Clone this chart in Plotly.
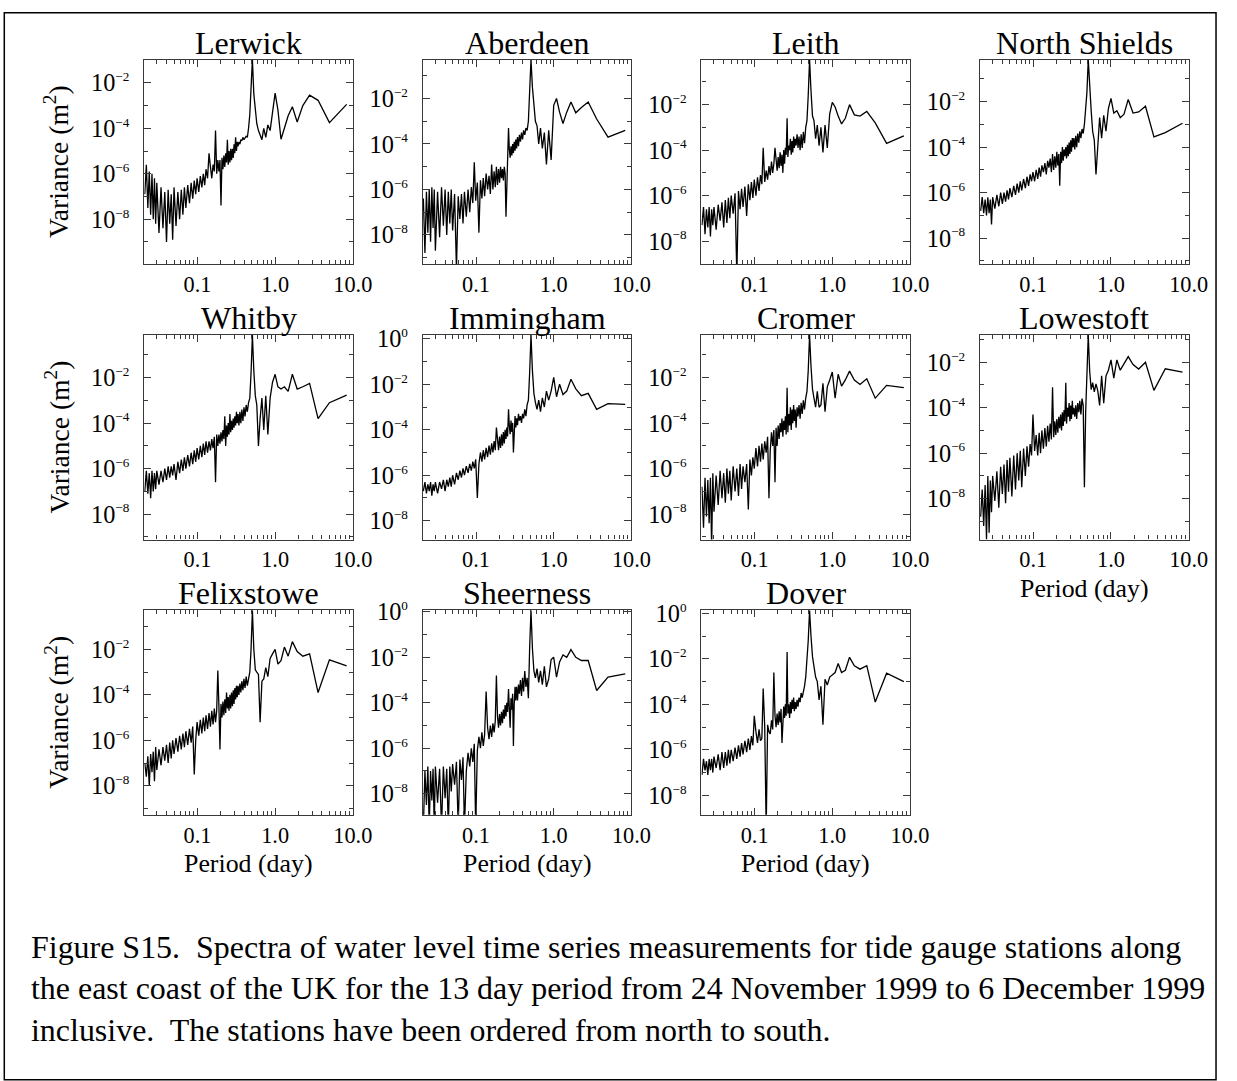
import math
import plotly.graph_objects as go

# ---------------- data ----------------
# spectral periods (day), longest to shortest
PERIOD_DAYS = [
    8.33, 5.0, 3.571, 2.778, 2.273, 1.923, 1.667, 1.471, 1.316, 1.190, 1.087, 1.0,
    0.926, 0.862, 0.806, 0.758, 0.714, 0.676, 0.641, 0.610, 0.581, 0.556, 0.532,
    0.510, 0.490, 0.472, 0.455, 0.439, 0.424, 0.410, 0.397, 0.385, 0.373, 0.362,
    0.352, 0.342, 0.333,
    0.325, 0.318, 0.310, 0.303, 0.296, 0.289, 0.282, 0.275, 0.268, 0.262, 0.255,
    0.249, 0.243, 0.237, 0.231, 0.225, 0.219, 0.213, 0.207, 0.201, 0.195, 0.189,
    0.183, 0.177, 0.171, 0.165, 0.159, 0.153, 0.147, 0.141, 0.135, 0.129, 0.124,
    0.119, 0.114, 0.109, 0.104, 0.099, 0.095, 0.091, 0.087, 0.083, 0.079, 0.075,
    0.071, 0.068, 0.065, 0.062, 0.059, 0.056, 0.053, 0.050, 0.048, 0.046, 0.044,
    0.042, 0.040, 0.038, 0.036, 0.034, 0.032, 0.030, 0.029, 0.028, 0.027, 0.026,
    0.025, 0.024, 0.023, 0.022, 0.021,
]

STATIONS = ["Lerwick", "Aberdeen", "Leith", "North Shields", "Whitby", "Immingham",
            "Cromer", "Lowestoft", "Felixstowe", "Sheerness", "Dover"]

# log10 of variance (m^2)
LOG_VAR_LERWICK = [
    -2.95, -3.75, -2.77, -2.54, -3.0, -3.72, -3.05, -3.45, -4.0, -4.48, -3.2, -2.45,
    -3.3, -4.1, -3.85, -4.4, -4.0, -4.5, -4.3, -4.1, -3.8, -3.2, -2.5, -0.98, -2.6,
    -3.4, -4.0, -4.4, -4.35, -4.45, -4.5, -4.4, -4.55, -4.5, -4.7, -4.6, -4.8,
    -4.6, -5.0, -4.4, -5.1, -4.7, -5.3, -4.9, -5.4, -4.9, -5.5, -5.0, -5.6, -4.5,
    -5.5, -5.1, -5.7, -5.2, -5.8, -5.3, -7.4, -5.4, -5.9, -5.4, -6.0, -4.1, -5.9,
    -5.6, -6.2, -5.7, -5.1, -6.2, -5.8, -6.5, -6.0, -6.6, -6.1, -6.8, -6.2, -6.9,
    -6.3, -7.1, -6.4, -7.3, -6.5, -7.5, -6.6, -7.8, -6.7, -8.0, -6.8, -8.3, -6.6,
    -8.9, -6.9, -8.2, -6.7, -9.0, -6.8, -8.4, -6.6, -8.6, -6.4, -8.2, -6.2, -8.0,
    -6.0, -7.8, -5.9, -7.5, -5.6, -6.9,
]
LOG_VAR_ABERDEEN = [
    -3.4, -3.7, -2.9, -2.15, -2.4, -2.63, -2.15, -2.6, -3.1, -2.6, -2.0, -2.3,
    -4.7, -3.4, -4.9, -3.5, -4.2, -3.3, -4.0, -3.2, -3.0, -2.4, -1.5, -0.29, -1.8,
    -3.0, -3.4, -3.3, -3.6, -3.4, -3.8, -3.5, -3.9, -3.6, -4.1, -3.7, -4.2,
    -3.8, -4.3, -3.9, -4.4, -4.0, -4.5, -4.1, -4.6, -4.2, -3.3, -4.8, -5.1, -7.2,
    -5.3, -5.0, -5.6, -5.1, -5.5, -5.0, -5.7, -5.1, -5.8, -5.0, -5.9, -5.2, -6.0,
    -4.9, -6.2, -5.4, -6.0, -5.3, -6.3, -5.5, -6.4, -5.6, -7.9, -5.7, -6.5, -4.8,
    -6.6, -5.9, -7.0, -6.0, -7.2, -6.1, -7.5, -6.2, -7.3, -6.3, -9.5, -6.2, -7.8,
    -6.0, -7.5, -6.1, -8.0, -6.0, -7.6, -5.9, -8.1, -6.1, -8.7, -6.0, -7.7, -5.9,
    -8.3, -6.0, -7.9, -6.1, -8.8, -6.4,
]
LOG_VAR_LEITH = [
    -3.37, -3.7, -2.8, -2.3, -2.5, -2.45, -2.0, -2.6, -2.85, -2.5, -2.1, -1.9,
    -2.4, -3.9, -2.9, -4.1, -3.0, -3.8, -2.9, -3.5, -2.7, -2.5, -1.4, -0.02, -1.6,
    -2.7, -3.0, -3.7, -3.2, -3.9, -3.3, -4.0, -3.4, -3.9, -3.3, -3.8, -3.5,
    -3.9, -3.4, -4.1, -3.6, -4.2, -3.5, -4.0, -3.8, -4.3, -2.6, -4.2, -3.9, -4.6,
    -4.0, -5.0, -4.2, -4.7, -4.1, -4.8, -4.3, -4.9, -4.4, -3.9, -4.6, -5.0, -4.5,
    -5.1, -4.7, -5.3, -4.9, -5.4, -3.9, -5.5, -5.1, -5.8, -5.2, -6.0, -5.3, -6.1,
    -5.4, -6.2, -5.5, -6.9, -5.6, -6.5, -5.7, -6.6, -5.8, -9.5, -5.9, -6.8, -6.0,
    -7.0, -6.1, -7.2, -6.2, -7.4, -6.3, -7.1, -6.4, -7.5, -6.5, -7.3, -6.6, -7.8,
    -6.5, -7.4, -6.6, -7.7, -6.5, -7.3,
]
LOG_VAR_NORTH_SHIELDS = [
    -2.95, -3.36, -3.55, -2.2, -2.45, -2.5, -1.9, -2.55, -2.7, -2.4, -2.5, -1.85,
    -2.3, -3.3, -2.6, -3.6, -2.7, -3.9, -5.2, -3.7, -3.3, -2.4, -1.4, -0.15, -1.6,
    -2.6, -3.0, -3.4, -3.2, -3.6, -3.3, -3.8, -3.4, -4.0, -3.5, -4.1, -3.6,
    -4.0, -3.6, -4.2, -3.7, -4.3, -3.8, -4.4, -3.9, -4.5, -4.0, -4.4, -4.1, -4.6,
    -4.0, -4.7, -4.2, -5.7, -4.3, -4.8, -4.2, -4.9, -4.4, -5.0, -4.3, -5.1, -4.5,
    -4.9, -4.6, -5.2, -4.7, -5.1, -4.8, -5.3, -4.9, -5.4, -5.0, -5.5, -5.1, -5.5,
    -5.2, -5.7, -5.3, -5.8, -5.4, -5.9, -5.5, -6.0, -5.6, -6.1, -5.7, -6.2, -5.8,
    -6.3, -5.9, -6.4, -6.0, -6.5, -6.0, -6.6, -6.1, -6.7, -6.2, -7.4, -6.3, -6.9,
    -6.2, -7.0, -6.3, -6.9, -6.2, -6.8,
]
LOG_VAR_WHITBY = [
    -2.77, -3.1, -3.8, -2.25, -2.4, -2.5, -1.85, -2.6, -2.4, -2.5, -2.4, -1.85,
    -2.2, -2.9, -4.5, -2.8, -4.3, -2.9, -3.8, -5.0, -3.2, -2.8, -1.7, -0.12, -1.8,
    -2.9, -3.1, -3.5, -3.2, -3.7, -3.3, -3.9, -3.4, -4.0, -3.5, -4.1, -3.6,
    -4.0, -3.5, -4.1, -3.7, -4.2, -3.8, -4.3, -3.9, -4.4, -3.6, -4.5, -4.0, -4.6,
    -4.1, -5.0, -3.7, -4.7, -4.3, -4.8, -4.4, -4.9, -4.5, -5.0, -4.5, -6.6, -4.6,
    -5.1, -4.7, -5.2, -4.8, -5.3, -4.8, -5.4, -4.9, -5.5, -5.0, -5.6, -5.1, -5.7,
    -5.2, -5.8, -5.3, -5.9, -5.4, -6.0, -5.5, -6.1, -5.6, -6.2, -5.7, -6.5, -5.8,
    -6.3, -5.9, -6.4, -5.9, -6.5, -6.0, -6.6, -6.1, -6.7, -6.1, -6.9, -6.2, -7.0,
    -6.1, -7.3, -6.2, -7.1, -6.1, -7.0,
]
LOG_VAR_IMMINGHAM = [
    -2.88, -2.85, -3.1, -2.4, -2.5, -2.2, -1.78, -2.3, -2.45, -2.0, -2.55, -1.7,
    -2.3, -2.7, -2.3, -3.0, -2.6, -3.2, -2.7, -3.1, -2.8, -2.4, -1.4, 0.17, -1.5,
    -2.7, -2.9, -3.4, -3.1, -3.5, -3.3, -3.7, -3.4, -3.6, -3.3, -3.8, -3.5,
    -3.9, -3.4, -4.0, -5.0, -3.7, -4.1, -3.6, -4.2, -3.8, -3.1, -4.3, -3.9, -4.4,
    -4.0, -4.6, -4.1, -4.7, -4.2, -4.8, -4.3, -4.9, -4.4, -3.9, -4.9, -4.5, -5.0,
    -4.6, -5.1, -4.7, -5.2, -4.8, -5.3, -4.9, -5.4, -5.0, -5.5, -7.0, -5.3, -5.7,
    -5.4, -5.8, -5.5, -5.9, -5.6, -6.0, -5.7, -6.1, -5.8, -6.2, -5.9, -6.4, -6.0,
    -6.5, -6.1, -6.5, -6.2, -6.7, -6.2, -6.6, -6.3, -6.8, -6.3, -6.7, -6.4, -6.9,
    -6.3, -6.7, -6.4, -6.8, -6.3, -6.7,
]
LOG_VAR_CROMER = [
    -2.44, -2.34, -2.9, -2.05, -2.3, -2.1, -1.71, -2.1, -2.37, -1.85, -2.9, -1.75,
    -2.1, -2.4, -3.5, -2.25, -3.2, -3.3, -2.6, -3.3, -2.9, -2.5, -1.5, -0.12, -1.7,
    -2.6, -2.9, -3.4, -3.0, -3.6, -3.1, -3.8, -3.2, -3.7, -3.3, -4.2, -3.4,
    -3.9, -3.2, -4.0, -3.4, -4.3, -3.3, -4.1, -3.6, -4.4, -2.44, -4.5, -3.7, -4.3,
    -3.9, -4.6, -3.8, -4.4, -4.0, -4.7, -4.1, -5.0, -4.2, -6.6, -4.3, -5.0, -4.4,
    -5.2, -7.3, -4.6, -5.3, -4.8, -5.6, -4.9, -5.7, -5.0, -5.9, -5.1, -6.0, -5.5,
    -6.3, -5.6, -7.8, -5.8, -6.6, -5.9, -6.9, -5.8, -7.2, -6.0, -7.0, -5.9, -7.4,
    -6.1, -7.1, -6.0, -7.5, -6.2, -7.3, -6.1, -7.6, -6.3, -7.9, -6.2, -9.5, -6.4,
    -8.4, -6.5, -8.1, -6.4, -8.6, -6.8,
]
LOG_VAR_LOWESTOFT = [
    -2.44, -2.29, -3.24, -2.0, -2.3, -2.1, -1.75, -2.1, -2.35, -1.9, -2.7, -1.9,
    -2.35, -2.6, -3.8, -2.6, -3.9, -3.25, -2.95, -3.3, -2.9, -3.2, -2.4, -0.8, -2.6,
    -4.2, -7.5, -3.9, -3.6, -4.3, -3.7, -4.2, -3.8, -4.5, -3.9, -4.4, -4.0,
    -4.3, -3.7, -4.5, -3.9, -4.6, -3.8, -4.4, -4.0, -4.7, -2.9, -4.6, -4.1, -4.8,
    -4.2, -5.0, -4.3, -4.9, -4.4, -5.1, -4.5, -5.2, -4.6, -5.3, -3.1, -5.4, -4.7,
    -5.5, -4.8, -5.7, -4.9, -5.8, -5.0, -6.0, -5.1, -6.1, -5.2, -5.9, -4.3, -6.1,
    -5.6, -6.6, -5.7, -7.0, -5.8, -7.5, -5.9, -7.2, -6.0, -7.6, -6.1, -7.9, -6.2,
    -7.7, -6.3, -8.2, -6.5, -7.8, -6.6, -8.4, -6.8, -8.1, -7.0, -8.6, -7.2, -9.5,
    -7.0, -9.8, -7.4, -9.2, -7.6, -8.8,
]
LOG_VAR_FELIXSTOWE = [
    -2.73, -2.46, -3.9, -2.2, -2.3, -2.1, -1.66, -2.3, -1.9, -2.5, -2.65, -2.0,
    -2.2, -2.4, -3.2, -2.8, -3.3, -3.4, -5.2, -3.1, -3.0, -2.9, -2.0, -0.28, -2.0,
    -3.0, -3.3, -3.6, -3.2, -3.7, -3.3, -3.8, -3.4, -3.9, -3.5, -4.0, -3.6,
    -4.1, -3.6, -4.2, -3.7, -4.4, -3.8, -4.5, -3.9, -4.6, -4.0, -4.7, -4.1, -4.6,
    -3.9, -4.8, -4.2, -4.9, -4.3, -5.0, -4.4, -6.4, -4.5, -2.93, -4.7, -5.2, -4.6,
    -5.3, -4.7, -5.4, -4.8, -5.5, -4.9, -5.6, -5.0, -5.7, -5.1, -5.8, -5.2, -6.0,
    -7.5, -5.4, -6.1, -5.5, -6.2, -5.6, -6.3, -5.7, -6.4, -5.8, -6.5, -5.9, -6.6,
    -6.0, -6.8, -6.1, -7.0, -6.2, -6.9, -6.3, -7.1, -6.4, -7.3, -6.3, -7.8, -6.5,
    -7.4, -6.6, -8.0, -6.7, -7.6, -7.0,
]
LOG_VAR_SHEERNESS = [
    -2.73, -2.87, -3.46, -2.14, -2.14, -2.0, -1.66, -2.0, -1.9, -2.2, -2.87, -2.0,
    -2.1, -2.95, -3.3, -2.4, -3.2, -2.6, -3.1, -2.5, -2.9, -2.6, -1.6, 0.07, -1.6,
    -3.8, -2.9, -3.3, -2.6, -3.5, -2.9, -3.7, -3.0, -3.6, -3.2, -3.9, -3.3,
    -3.9, -3.3, -4.1, -5.9, -3.6, -4.3, -3.8, -5.1, -3.9, -3.4, -4.4, -4.0, -4.6,
    -4.1, -4.7, -4.3, -4.9, -4.4, -5.0, -4.5, -5.1, -4.6, -2.8, -4.8, -5.3, -4.9,
    -5.5, -5.0, -5.6, -5.1, -3.5, -5.4, -5.9, -5.3, -6.0, -5.5, -6.1, -9.5, -5.8,
    -6.6, -6.0, -6.8, -6.2, -7.0, -9.5, -6.4, -7.4, -6.5, -9.5, -6.6, -7.6, -6.7,
    -7.9, -6.8, -9.5, -6.9, -8.2, -6.8, -9.5, -6.9, -8.4, -6.8, -9.5, -6.9, -8.3,
    -7.0, -9.5, -6.8, -8.5, -7.0, -9.5,
]
LOG_VAR_DOVER = [
    -3.0, -2.63, -3.9, -2.3, -2.45, -2.3, -1.93, -2.5, -2.6, -2.2, -2.6, -2.7,
    -2.8, -3.15, -2.9, -4.9, -3.2, -3.8, -3.0, -2.8, -2.4, -1.9, -1.0, 0.14, -1.2,
    -2.2, -2.8, -3.2, -3.5, -3.7, -3.5, -3.9, -3.7, -4.1, -3.8, -4.2, -3.9,
    -4.3, -3.7, -4.2, -3.8, -4.4, -3.9, -4.6, -4.0, -4.4, -1.7, -4.5, -4.0, -4.6,
    -4.1, -4.7, -5.7, -4.2, -4.8, -4.3, -4.9, -4.4, -5.0, -4.5, -2.6, -5.1, -4.7,
    -5.3, -5.2, -4.9, -9.5, -5.0, -3.3, -5.5, -5.6, -5.1, -5.7, -5.2, -4.5, -5.8,
    -5.4, -6.0, -5.5, -6.1, -5.6, -6.2, -5.7, -6.3, -5.8, -6.4, -5.9, -6.5, -6.0,
    -6.6, -6.0, -6.7, -6.1, -6.8, -6.1, -6.9, -6.2, -6.8, -6.3, -7.0, -6.4, -6.9,
    -6.4, -7.1, -6.5, -6.9, -6.4, -7.1,
]

SERIES = [LOG_VAR_LERWICK, LOG_VAR_ABERDEEN, LOG_VAR_LEITH, LOG_VAR_NORTH_SHIELDS,
          LOG_VAR_WHITBY, LOG_VAR_IMMINGHAM, LOG_VAR_CROMER, LOG_VAR_LOWESTOFT,
          LOG_VAR_FELIXSTOWE, LOG_VAR_SHEERNESS, LOG_VAR_DOVER]

# upper limit of each panel's y axis (log10); each axis spans nine decades
Y_TOP_LOG = [-0.98, -0.29, -0.02, -0.15, -0.12, 0.17, -0.12, -0.8, -0.28, 0.07, 0.14]

X_TICKS = [0.1, 1.0, 10.0]
X_TICK_TEXT = ["0.1", "1.0", "10.0"]
X_MINOR = [0.03, 0.04, 0.05, 0.06, 0.07, 0.08, 0.09,
           0.2, 0.3, 0.4, 0.5, 0.6, 0.7, 0.8, 0.9,
           2, 3, 4, 5, 6, 7, 8, 9]
X_MIN_PERIOD = 0.0207

CAPTION = [
    "Figure S15.\u00a0 Spectra of water level time series measurements for tide gauge stations along",
    "the east coast of the UK for the 13 day period from 24 November 1999 to 6 December 1999",
    "inclusive.\u00a0 The stations have been ordered from north to south.",
]

# ---------------- layout ----------------
W, H = 1237, 1081
# the captured page comes out slightly reduced and shifted; these undo that
S, OX, OY = 0.986, -1.3, 12.5
COL_LEFT = [143.3, 422.5, 701.7, 981.0]   # target pixel positions
ROW_TOP = [60.0, 334.5, 609.0]
BOX_W, BOX_H = 209.0, 204.0
GRID_POS = [(0, 0), (0, 1), (0, 2), (0, 3), (1, 0), (1, 1), (1, 2), (1, 3),
            (2, 0), (2, 1), (2, 2)]
SERIF = "Liberation Serif, Times New Roman, serif"
FRAME = "#3a3a3a"


def px_x(x):
    return min(max(((x - OX) / S) / W, 0.0), 1.0)


def px_y(y):
    return min(max(1 - ((y - OY) / S) / H, 0.0), 1.0)


def fs(size):
    return round(size / S, 2)


def exp_label(e):
    s = str(e).replace("-", "\u2212")
    return "10<sup><span style='font-size:%spx'>%s</span></sup>" % (fs(13), s)


fig = go.Figure()
layout = dict(
    width=W, height=H, margin=dict(l=0, r=0, t=0, b=0, pad=0), autosize=False,
    paper_bgcolor="white", plot_bgcolor="white", showlegend=False,
    font=dict(family=SERIF, color="black"),
)
annotations = []

for i, (name, vals) in enumerate(zip(STATIONS, SERIES)):
    r, c = GRID_POS[i]
    left, top = COL_LEFT[c], ROW_TOP[r]
    sfx = "" if i == 0 else str(i + 1)
    xs = [p for p, _ in zip(PERIOD_DAYS, vals)]
    ys = [10 ** v for _, v in zip(PERIOD_DAYS, vals)]
    fig.add_trace(go.Scatter(
        x=xs, y=ys, mode="lines",
        line=dict(color="black", width=1.3),
        xaxis="x" + sfx, yaxis="y" + sfx, hoverinfo="skip",
    ))
    ytop = Y_TOP_LOG[i]
    ybot = ytop - 9
    major = [e for e in range(0, -12, -2) if ybot <= e <= ytop]
    minor = [e for e in range(-1, -12, -2) if ybot <= e <= ytop]
    layout["xaxis" + sfx] = dict(
        type="log", domain=[px_x(left), px_x(left + BOX_W)],
        range=[math.log10(X_MIN_PERIOD), 1.0], anchor="y" + sfx,
        tickmode="array", tickvals=X_TICKS, ticktext=X_TICK_TEXT,
        ticks="inside", ticklen=7, tickwidth=1, tickcolor=FRAME,
        showline=True, linecolor=FRAME, linewidth=1.2, mirror="ticks",
        showgrid=False, zeroline=False,
        tickfont=dict(family=SERIF, size=fs(22), color="black"),
        ticklabelstandoff=0,
        minor=dict(tickmode="array", tickvals=X_MINOR, ticks="inside",
                   ticklen=4, tickwidth=1, tickcolor=FRAME, showgrid=False),
    )
    layout["yaxis" + sfx] = dict(
        type="log", domain=[px_y(top + BOX_H), px_y(top)],
        range=[ybot, ytop], anchor="x" + sfx,
        tickmode="array", tickvals=[10.0 ** e for e in major],
        ticktext=[exp_label(e) for e in major],
        ticks="inside", ticklen=7, tickwidth=1, tickcolor=FRAME,
        showline=True, linecolor=FRAME, linewidth=1.2, mirror="ticks",
        showgrid=False, zeroline=False,
        tickfont=dict(family=SERIF, size=fs(24), color="black"),
        ticklabelstandoff=9,
        minor=dict(tickmode="array", tickvals=[10.0 ** e for e in minor],
                   ticks="inside", ticklen=4, tickwidth=1, tickcolor=FRAME,
                   showgrid=False),
    )
    # panel title
    annotations.append(dict(
        text=name, xref="paper", yref="paper",
        x=px_x(left + BOX_W / 2), y=px_y(top - 17),
        xanchor="center", yanchor="middle", showarrow=False,
        font=dict(family=SERIF, size=fs(31.6), color="black"),
    ))
    if c == 0:
        annotations.append(dict(
            text="Variance (m<sup>2</sup>)", xref="paper", yref="paper",
            x=px_x(56), y=px_y(top + BOX_H / 2), textangle=-90,
            xanchor="center", yanchor="middle", showarrow=False,
            font=dict(family=SERIF, size=fs(27.2), color="black"),
        ))
    if r == 2 or (r == 1 and c == 3):
        annotations.append(dict(
            text="Period (day)", xref="paper", yref="paper",
            x=px_x(left + BOX_W / 2), y=px_y(top + BOX_H + 49),
            xanchor="center", yanchor="middle", showarrow=False,
            font=dict(family=SERIF, size=fs(25.5), color="black"),
        ))

CAPTION_Y = [945, 986, 1028]
for line, yy in zip(CAPTION, CAPTION_Y):
    annotations.append(dict(
        text=line, xref="paper", yref="paper", x=px_x(28), y=px_y(yy),
        xanchor="left", yanchor="middle", showarrow=False,
        font=dict(family=SERIF, size=fs(31.5), color="black"),
    ))

layout["annotations"] = annotations
layout["shapes"] = [dict(
    type="rect", xref="paper", yref="paper",
    x0=px_x(3), x1=0.9992, y0=px_y(1077), y1=0.9992,
    line=dict(color="black", width=1.5), fillcolor="rgba(0,0,0,0)", layer="below",
)]
fig.update_layout(**layout)
fig.write_html("out.html", config={"displayModeBar": False})
